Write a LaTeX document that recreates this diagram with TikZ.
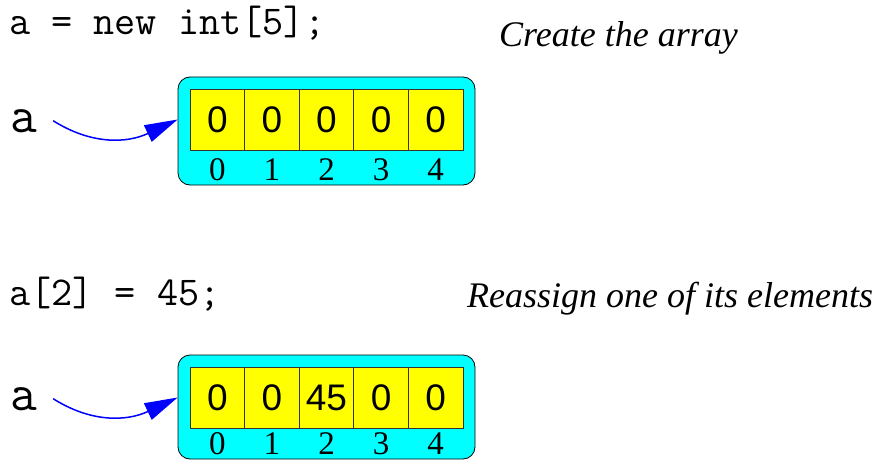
\documentclass[tikz,border=0pt]{standalone}
\usepackage{fontspec}
\setmainfont{Liberation Serif}
\setsansfont{Liberation Sans}
\usetikzlibrary{arrows.meta}
\definecolor{boxcyan}{RGB}{0,255,255}
\definecolor{cellyellow}{RGB}{255,255,0}
\begin{document}
\begin{tikzpicture}[x=1pt,y=-1pt,
  code/.style={anchor=base west,inner sep=0pt,font=\ttfamily\fontsize{41}{41}\selectfont},
  varname/.style={anchor=base west,inner sep=0pt,font=\ttfamily\fontsize{52}{52}\selectfont},
  caption/.style={anchor=base west,inner sep=0pt,font=\itshape\fontsize{36}{36}\selectfont},
  arraybox/.style={draw=black,line width=0.8pt,fill=boxcyan,rounded corners=12pt,minimum width=297pt,inner sep=0pt},
  cell/.style={draw=black!80,line width=0.7pt,fill=cellyellow,minimum width=54.6pt,minimum height=61pt,inner sep=0pt,font=\sffamily\fontsize{37}{37}\selectfont},
  idx/.style={anchor=base,inner sep=0pt,font=\fontsize{33}{33}\selectfont},
  ptr/.style={draw=blue,line width=1.5pt,-{Triangle[length=33pt,width=18pt]}}
]
\useasboundingbox (0,0) rectangle (878,460);

% ---------- top panel ----------
\node[code] (code1) at (9,35) {a = new int[5];};
\node[caption] (cap1) at (499,47) {Create the array};
\node[arraybox,minimum height=108pt] (box1) at (326.5,131) {};
\node[cell] (a0) at (217.3,119.5) {0};
\node[cell] (a1) at (271.9,119.5) {0};
\node[cell] (a2) at (326.5,119.5) {0};
\node[cell] (a3) at (381.1,119.5) {0};
\node[cell] (a4) at (435.7,119.5) {0};
\node[idx] (ai0) at (217.3,180) {0};
\node[idx] (ai1) at (271.9,180) {1};
\node[idx] (ai2) at (326.5,180) {2};
\node[idx] (ai3) at (381.1,180) {3};
\node[idx] (ai4) at (435.7,180) {4};
\node[varname] (va) at (10,132) {a};
\draw[ptr] ([xshift=16pt]va.east) .. controls +(38,24) and +(-51,24) .. ([xshift=-12pt]a0.west);

% ---------- bottom panel ----------
\node[code] (code2) at (9,305) {a[2] = 45;};
\node[caption] (cap2) at (467,307) {Reassign one of its elements};
\node[arraybox,minimum height=104pt] (box2) at (326.5,407) {};
\node[cell] (b0) at (217.3,397.5) {0};
\node[cell] (b1) at (271.9,397.5) {0};
\node[cell] (b2) at (326.5,397.5) {45};
\node[cell] (b3) at (381.1,397.5) {0};
\node[cell] (b4) at (435.7,397.5) {0};
\node[idx] (bi0) at (217.3,454) {0};
\node[idx] (bi1) at (271.9,454) {1};
\node[idx] (bi2) at (326.5,454) {2};
\node[idx] (bi3) at (381.1,454) {3};
\node[idx] (bi4) at (435.7,454) {4};
\node[varname] (vb) at (10,410) {a};
\draw[ptr] ([xshift=16pt]vb.east) .. controls +(38,24) and +(-51,24) .. ([xshift=-12pt]b0.west);
\end{tikzpicture}
\end{document}
